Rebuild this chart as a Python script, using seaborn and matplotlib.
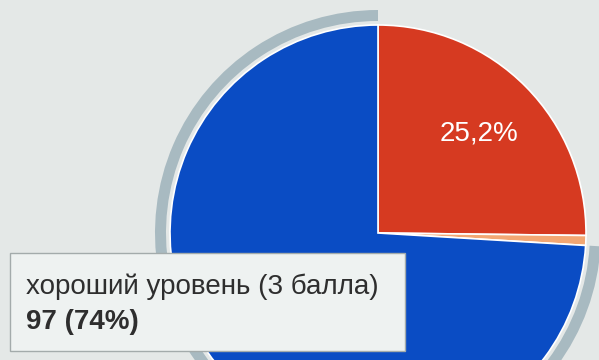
import matplotlib
matplotlib.use("Agg")
import matplotlib.pyplot as plt
import seaborn as sns
from matplotlib.patches import FancyBboxPatch

# ---- data (Google Forms pie, slices clockwise from 12 o'clock) ----
categories = ["высокий уровень", "низкий уровень", "хороший уровень (3 балла)"]
counts = [33, 1, 97]
slice_colors = ["#d63a21", "#f2a774", "#0a4cc4"]
tooltip_title = "хороший уровень (3 балла)"
tooltip_value = "97 (74%)"

sns.set_theme(style="white")
plt.rcParams["font.family"] = ["Liberation Sans", "DejaVu Sans"]

W, H = 599, 360
fig = plt.figure(figsize=(W / 100, H / 100), dpi=100)
bg = "#e4e8e7"
fig.patch.set_facecolor(bg)
ax = fig.add_axes([0, 0, 1, 1])
ax.set_facecolor(bg)

cx, cy, R = 378, H - 233, 208

def pct_label(p):
    return f"{p:.1f}%".replace(".", ",") if 20 < p < 50 else ""

wedges, texts, autotexts = ax.pie(
    counts, colors=slice_colors, startangle=90, counterclock=False,
    center=(cx, cy), radius=R, autopct=pct_label, pctdistance=0.68,
    wedgeprops=dict(edgecolor="white", linewidth=1.2),
    textprops=dict(color="white", fontsize=20),
)

# hover highlight ring around the selected (blue) slice
ax.pie(
    counts, colors=["none", "none", "#a8bac1"], startangle=90, counterclock=False,
    center=(cx, cy), radius=R + 15,
    wedgeprops=dict(width=11, edgecolor="none", linewidth=0),
)

# tooltip
box = FancyBboxPatch((10, H - 351), 395, 98, boxstyle="square,pad=0",
                     facecolor="#eef2f1", edgecolor="#a3abab", linewidth=1.0, zorder=5)
ax.add_patch(box)
ax.text(26, H - 287, tooltip_title, fontsize=20, color="#2e2e2e",
        va="center", ha="left", zorder=6)
ax.text(26, H - 322, tooltip_value, fontsize=20, color="#2e2e2e",
        fontweight="bold", va="center", ha="left", zorder=6)

ax.set_xlim(0, W)
ax.set_ylim(0, H)
ax.set_aspect("equal")
ax.axis("off")

fig.savefig("out.png", dpi=100, facecolor=bg)
